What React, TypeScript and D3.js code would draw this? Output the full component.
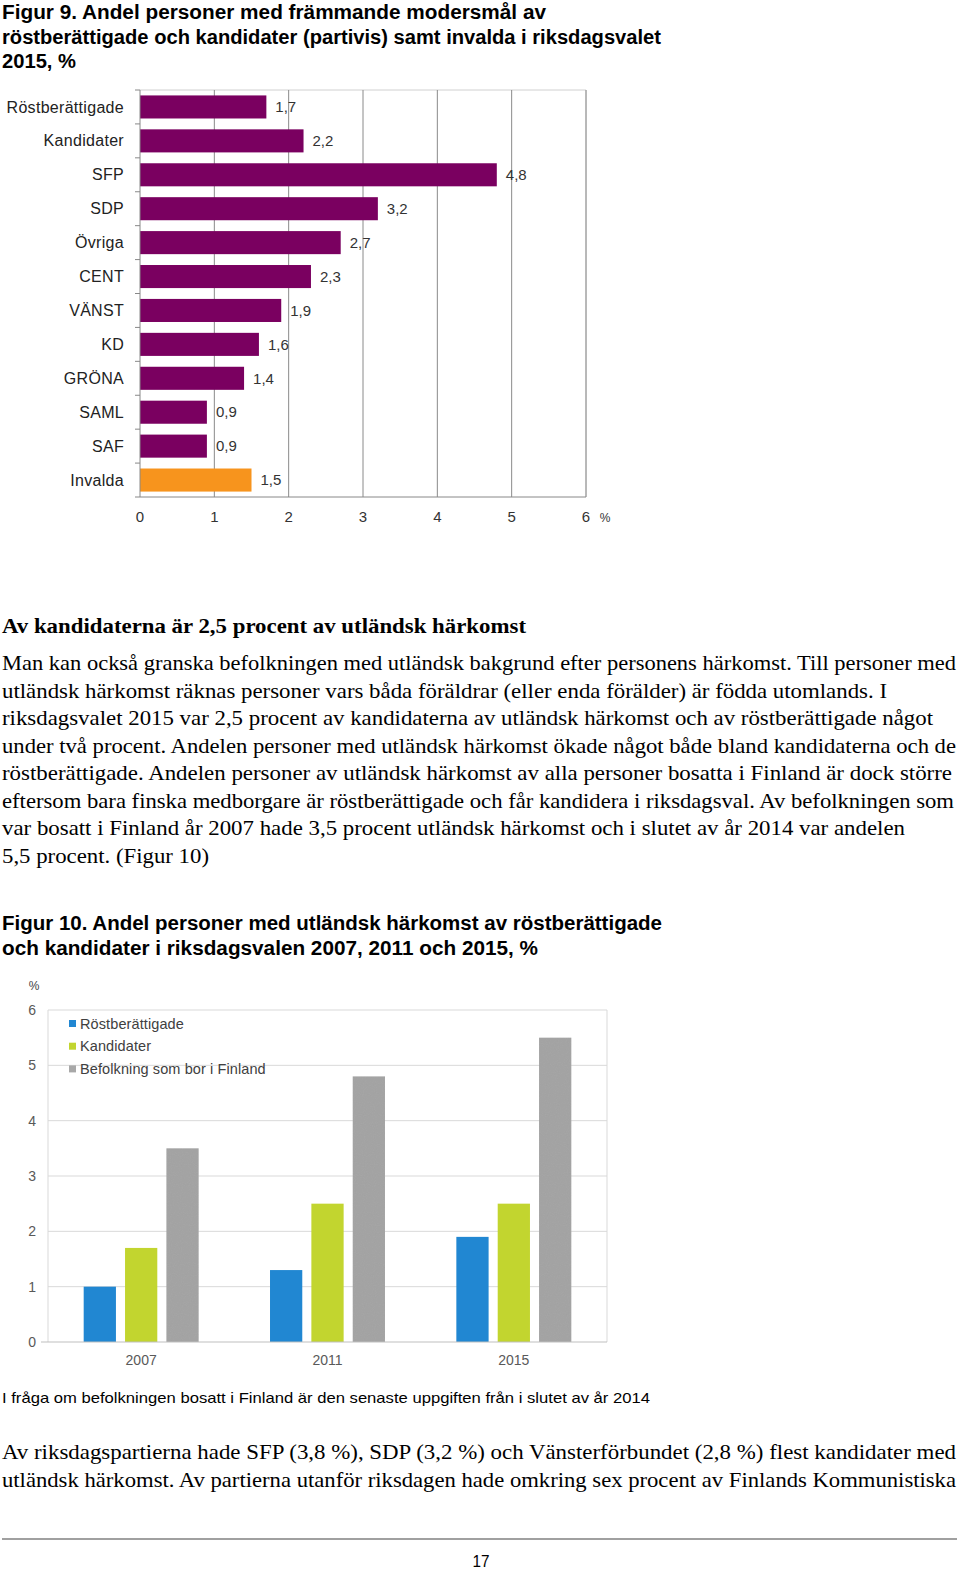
import React from "react";
import * as d3 from "d3";

const fig9Categories = ["Röstberättigade", "Kandidater", "SFP", "SDP", "Övriga", "CENT", "VÄNST", "KD", "GRÖNA", "SAML", "SAF", "Invalda"];
const fig9Values = [1.7, 2.2, 4.8, 3.2, 2.7, 2.3, 1.9, 1.6, 1.4, 0.9, 0.9, 1.5];
const fig9Labels = ["1,7", "2,2", "4,8", "3,2", "2,7", "2,3", "1,9", "1,6", "1,4", "0,9", "0,9", "1,5"];
const fig9Ticks = [0, 1, 2, 3, 4, 5, 6];

const fig10Years = ["2007", "2011", "2015"];
const fig10Series = ["Röstberättigade", "Kandidater", "Befolkning som bor i Finland"];
const fig10Rost = [1.0, 1.3, 1.9];
const fig10Kand = [1.7, 2.5, 2.5];
const fig10Bef = [3.5, 4.8, 5.5];
const fig10Ticks = [0, 1, 2, 3, 4, 5, 6];

const title9 = [
  { t: "Figur 9. Andel personer med främmande modersmål av", w: 544 },
  { t: "röstberättigade och kandidater (partivis) samt invalda i riksdagsvalet", w: 659 },
  { t: "2015, %", w: 74 },
];
const heading = { t: "Av kandidaterna är 2,5 procent av utländsk härkomst", w: 524 };
const para1 = [
  { t: "Man kan också granska befolkningen med utländsk bakgrund efter personens härkomst. Till personer med", w: 954 },
  { t: "utländsk härkomst räknas personer vars båda föräldrar (eller enda förälder) är födda utomlands. I", w: 885 },
  { t: "riksdagsvalet 2015 var 2,5 procent av kandidaterna av utländsk härkomst och av röstberättigade något", w: 931 },
  { t: "under två procent. Andelen personer med utländsk härkomst ökade något både bland kandidaterna och de", w: 954 },
  { t: "röstberättigade. Andelen personer av utländsk härkomst av alla personer bosatta i Finland är dock större", w: 950 },
  { t: "eftersom bara finska medborgare är röstberättigade och får kandidera i riksdagsval. Av befolkningen som", w: 952 },
  { t: "var bosatt i Finland år 2007 hade 3,5 procent utländsk härkomst och i slutet av år 2014 var andelen", w: 903 },
  { t: "5,5 procent. (Figur 10)", w: 207 },
];
const title10 = [
  { t: "Figur 10. Andel personer med utländsk härkomst av röstberättigade", w: 660 },
  { t: "och kandidater i riksdagsvalen 2007, 2011 och 2015, %", w: 536 },
];
const footnote = { t: "I fråga om befolkningen bosatt i Finland är den senaste uppgiften från i slutet av år 2014", w: 648 };
const para2 = [
  { t: "Av riksdagspartierna hade SFP (3,8 %), SDP (3,2 %) och Vänsterförbundet (2,8 %) flest kandidater med", w: 954 },
  { t: "utländsk härkomst. Av partierna utanför riksdagen hade omkring sex procent av Finlands Kommunistiska", w: 954 },
];

const SANS = "'Liberation Sans', Arial, sans-serif";
const SERIF = "'Liberation Serif', 'Times New Roman', serif";

export default function App() {
  // Figure 9
  const x9 = d3.scaleLinear().domain([0, 6]).range([140, 586]);
  const y9 = d3.scaleBand<string>().domain(fig9Categories).range([90, 497]).paddingInner(0.32).paddingOuter(0.16);
  const step9 = y9.step();
  const boundaries = d3.range(fig9Categories.length + 1).map((i) => 90 + i * step9);

  // Figure 10
  const x10 = d3.scaleBand<string>().domain(fig10Years).range([48, 607]);
  const groupW = x10.bandwidth() * 0.617;
  const x10inner = d3.scaleBand<string>().domain(fig10Series).range([0, groupW]).paddingInner(0.22);
  const y10 = d3.scaleLinear().domain([0, 6]).range([1342, 1010]);
  const seriesVals = [fig10Rost, fig10Kand, fig10Bef];
  const seriesColors = ["#2187d2", "#c2d52f", "#a8a8a8"];

  return (
    <svg width={960} height={1572} style={{ position: "absolute", left: 0, top: 0, background: "#fff" }}>
      <defs>
        <filter id="grain" x="0" y="0" width="100%" height="100%">
          <feTurbulence type="fractalNoise" baseFrequency="0.9" numOctaves="1" result="n" />
          <feColorMatrix type="saturate" values="0" in="n" result="g" />
          <feComponentTransfer in="g" result="g2">
            <feFuncA type="linear" slope="0" intercept="0.12" />
          </feComponentTransfer>
          <feComposite in="g2" in2="SourceGraphic" operator="in" result="c" />
          <feBlend in="c" in2="SourceGraphic" mode="multiply" />
        </filter>
      </defs>
      <rect x={0} y={0} width={960} height={1572} fill="#fff" />

      {/* Title figure 9 */}
      {title9.map((l, i) => (
        <text key={i} x={2} y={19 + i * 24.5} fontFamily={SANS} fontWeight="bold" fontSize={20} fill="#000"
          textLength={l.w} lengthAdjust="spacingAndGlyphs">{l.t}</text>
      ))}

      {/* Figure 9 chart */}
      <g>
        <line x1={140} x2={586} y1={90} y2={90} stroke="#d0d0d0" />
        <line x1={586} x2={586} y1={90} y2={497} stroke="#d0d0d0" />
        {fig9Ticks.slice(1).map((t) => (
          <line key={t} x1={x9(t)} x2={x9(t)} y1={90} y2={497} stroke="#8a8a8a" strokeWidth={1} />
        ))}
        {fig9Categories.map((c, i) => (
          <rect key={c} x={x9(0)} y={y9(c)} width={x9(fig9Values[i]) - x9(0)} height={y9.bandwidth()}
            fill={c === "Invalda" ? "#f7941d" : "#7a0060"} />
        ))}
        <line x1={140} x2={140} y1={90} y2={497} stroke="#888" />
        <line x1={140} x2={586} y1={497} y2={497} stroke="#888" />
        {boundaries.map((b, i) => (
          <line key={i} x1={135} x2={140} y1={b} y2={b} stroke="#888" />
        ))}
        {fig9Categories.map((c, i) => (
          <text key={c} x={124} y={y9(c)! + y9.bandwidth() / 2} dy="0.35em" textAnchor="end"
            fontFamily={SANS} fontSize={16} letterSpacing={0.3} fill="#222">{c}</text>
        ))}
        {fig9Categories.map((c, i) => (
          <text key={c} x={x9(fig9Values[i]) + 9} y={y9(c)! + y9.bandwidth() / 2} dy="0.35em"
            fontFamily={SANS} fontSize={15} fill="#333">{fig9Labels[i]}</text>
        ))}
        {fig9Ticks.map((t) => (
          <text key={t} x={x9(t)} y={522} textAnchor="middle" fontFamily={SANS} fontSize={15} fill="#333">{t}</text>
        ))}
        <text x={605} y={522} textAnchor="middle" fontFamily={SANS} fontSize={12} fill="#333">%</text>
      </g>

      {/* Heading & paragraph */}
      <text x={2} y={633} fontFamily={SERIF} fontWeight="bold" fontSize={21} fill="#000"
        textLength={heading.w} lengthAdjust="spacingAndGlyphs">{heading.t}</text>
      {para1.map((l, i) => (
        <text key={i} x={2} y={670 + i * 27.5} fontFamily={SERIF} fontSize={21} fill="#000"
          textLength={l.w} lengthAdjust="spacingAndGlyphs">{l.t}</text>
      ))}

      {/* Title figure 10 */}
      {title10.map((l, i) => (
        <text key={i} x={2} y={930 + i * 25} fontFamily={SANS} fontWeight="bold" fontSize={20} fill="#000"
          textLength={l.w} lengthAdjust="spacingAndGlyphs">{l.t}</text>
      ))}

      {/* Figure 10 chart */}
      <g>
        <text x={34} y={990} textAnchor="middle" fontFamily={SANS} fontSize={12} fill="#444">%</text>
        {fig10Ticks.slice(1).map((t) => (
          <line key={t} x1={48} x2={607} y1={y10(t)} y2={y10(t)} stroke="#d9d9d9" />
        ))}
        <line x1={48} x2={48} y1={y10(6)} y2={y10(0)} stroke="#d9d9d9" />
        <line x1={607} x2={607} y1={y10(6)} y2={y10(0)} stroke="#d9d9d9" />
        {fig10Years.map((yr, yi) => (
          <g key={yr} transform={`translate(${x10(yr)! + (x10.bandwidth() - groupW) / 2},0)`}>
            {fig10Series.map((s, si) => (
              <rect key={s} x={x10inner(s)} y={y10(seriesVals[si][yi])} width={x10inner.bandwidth()}
                height={y10(0) - y10(seriesVals[si][yi])} fill={seriesColors[si]}
                filter={si === 2 ? "url(#grain)" : undefined} />
            ))}
          </g>
        ))}
        <line x1={41} x2={607} y1={y10(0)} y2={y10(0)} stroke="#bfbfbf" />
        {fig10Ticks.map((t) => (
          <text key={t} x={36} y={y10(t)} dy="0.35em" textAnchor="end" fontFamily={SANS} fontSize={14} fill="#595959">{t}</text>
        ))}
        {fig10Years.map((yr) => (
          <text key={yr} x={x10(yr)! + x10.bandwidth() / 2} y={1365} textAnchor="middle" fontFamily={SANS} fontSize={14} fill="#595959">{yr}</text>
        ))}
        {fig10Series.map((s, i) => (
          <g key={s}>
            <rect x={69} y={1020 + i * 22.7} width={7} height={7} fill={seriesColors[i]} />
            <text x={80} y={1023.5 + i * 22.7} dy="0.35em" fontFamily={SANS} fontSize={14.5} letterSpacing={0.1} fill="#404040">{s}</text>
          </g>
        ))}
      </g>

      {/* Footnote & paragraph */}
      <text x={2} y={1403} fontFamily={SANS} fontSize={15} fill="#000"
        textLength={footnote.w} lengthAdjust="spacingAndGlyphs">{footnote.t}</text>
      {para2.map((l, i) => (
        <text key={i} x={2} y={1459 + i * 28} fontFamily={SERIF} fontSize={21} fill="#000"
          textLength={l.w} lengthAdjust="spacingAndGlyphs">{l.t}</text>
      ))}
      <line x1={2} x2={957} y1={1539} y2={1539} stroke="#808080" strokeWidth={1.5} />
      <text x={481} y={1567} textAnchor="middle" fontFamily={SANS} fontSize={16} fill="#000"
        textLength={17} lengthAdjust="spacingAndGlyphs">17</text>
    </svg>
  );
}
